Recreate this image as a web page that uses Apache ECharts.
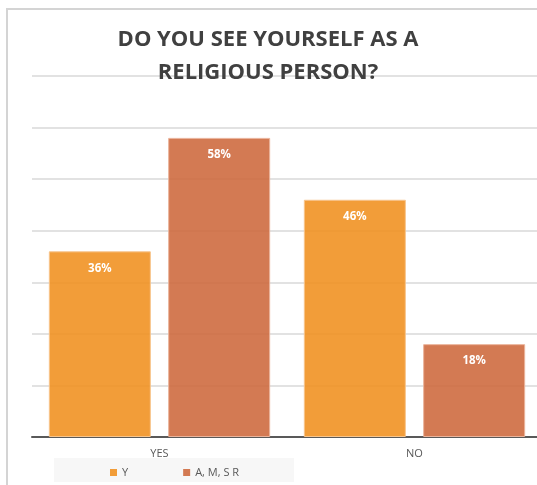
<!DOCTYPE html>
<html>
<head>
<meta charset="utf-8">
<script src="https://cdn.jsdelivr.net/npm/echarts@6/dist/echarts.min.js"></script>
<style>
  html, body { margin: 0; padding: 0; background: #ffffff; overflow: hidden; }
  /* canvas is a little wider than the window so the plot runs off the right edge */
  #chart { width: 545px; height: 485px; }
</style>
</head>
<body>
<div id="chart"></div>
<script>
// Survey answers by group (percent)
const categories = ['YES', 'NO'];
const seriesNames = ['Y', 'A, M, S R'];
const valuesY = [36, 46];
const valuesAMSR = [58, 18];
const titleLines = ['DO YOU SEE YOURSELF AS A', 'RELIGIOUS PERSON?'];

const FONT = '"Open Sans", "DejaVu Sans", sans-serif';

const chart = echarts.init(document.getElementById('chart'), null, { renderer: 'canvas' });

const labelStyle = {
  show: true,
  position: 'insideTop',
  distance: 11,
  color: '#ffffff',
  fontFamily: FONT,
  fontWeight: 'bold',
  fontSize: 11.5,
  formatter: '{c}%'
};

chart.setOption({
  backgroundColor: '#ffffff',
  animation: false,
  graphic: [
    {
      type: 'rect',
      z: 0,
      shape: { x: 7, y: 9, width: 560, height: 500 },
      style: { fill: 'none', stroke: '#d4d4d4', lineWidth: 2 }
    },
    {
      type: 'rect',
      z: 0,
      shape: { x: 54, y: 458, width: 240, height: 24 },
      style: { fill: '#f7f7f7' }
    },
    {
      type: 'text',
      z: 10,
      x: 268,
      y: 23,
      style: {
        text: titleLines.join('\n'),
        textAlign: 'center',
        textVerticalAlign: 'top',
        fontFamily: FONT,
        fontWeight: 'bold',
        fontSize: 22,
        lineHeight: 33,
        fill: '#404040'
      }
    }
  ],
  legend: {
    data: seriesNames,
    left: 105,
    top: 462,
    itemWidth: 7,
    itemHeight: 7,
    itemGap: 55,
    icon: 'rect',
    itemStyle: { borderWidth: 0 },
    textStyle: { fontFamily: FONT, fontSize: 11, color: '#595959' }
  },
  grid: { left: 32, right: 3, top: 76, bottom: 48, containLabel: false },
  xAxis: {
    type: 'category',
    data: categories,
    axisLine: { lineStyle: { color: '#595959', width: 2 } },
    axisTick: { show: false },
    axisLabel: { margin: 11, fontFamily: FONT, fontSize: 11, color: '#595959' }
  },
  yAxis: {
    type: 'value',
    min: 0,
    max: 70,
    interval: 10,
    axisLabel: { show: false },
    axisLine: { show: false },
    axisTick: { show: false },
    splitLine: { lineStyle: { color: '#d9d9d9', width: 1.5 } }
  },
  series: [
    {
      name: seriesNames[0],
      type: 'bar',
      data: valuesY,
      barWidth: 102,
      barGap: '17%',
      itemStyle: { color: 'rgba(241,146,36,0.9)', borderColor: '#f7c48c', borderWidth: 1 },
      label: labelStyle
    },
    {
      name: seriesNames[1],
      type: 'bar',
      data: valuesAMSR,
      barWidth: 102,
      barGap: '17%',
      itemStyle: { color: 'rgba(206,108,64,0.9)', borderColor: '#eab39b', borderWidth: 1 },
      label: labelStyle
    }
  ]
});
</script>
</body>
</html>
